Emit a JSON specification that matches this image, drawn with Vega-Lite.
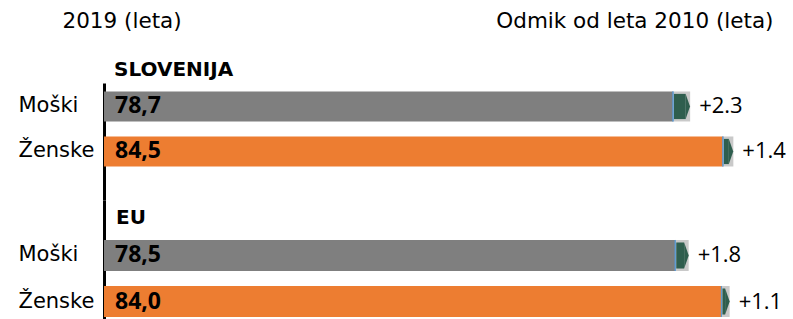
{
  "$schema": "https://vega.github.io/schema/vega-lite/v6.json",
  "padding": {"left": 18, "top": 10, "right": 0, "bottom": 0},
  "background": "white",
  "config": {"view": {"stroke": null}, "concat": {"spacing": 0}},
  "data": {"values": [
    {"region": "SLOVENIJA", "sex": "Moški", "value": 78.7, "v2010": 76.4, "valueLabel": "78,7", "changeLabel": "+2.3"},
    {"region": "SLOVENIJA", "sex": "Ženske", "value": 84.5, "v2010": 83.1, "valueLabel": "84,5", "changeLabel": "+1.4"},
    {"region": "EU", "sex": "Moški", "value": 78.5, "v2010": 76.7, "valueLabel": "78,5", "changeLabel": "+1.8"},
    {"region": "EU", "sex": "Ženske", "value": 84.0, "v2010": 82.9, "valueLabel": "84,0", "changeLabel": "+1.1"}
  ]},
  "spacing": 0,
  "resolve": {"scale": {"x": "shared", "y": "independent"}, "axis": {"x": "independent", "y": "independent"}},
  "vconcat": [
    {
      "width": 680,
      "height": 117,
      "transform": [{"filter": "datum.region === 'SLOVENIJA'"}],
      "encoding": {
        "y": {"field": "sex", "type": "nominal", "sort": ["Moški", "Ženske"],
          "scale": {"paddingInner": 0.3333, "paddingOuter": 0.4667, "align": 0.202},
          "axis": {"title": "2019 (leta)", "titleAngle": 0, "titleAlign": "left", "titleBaseline": "middle", "titleX": -42, "titleY": -62,
            "titleFont": "DejaVu Sans", "titleFontSize": 21.5, "titleFontWeight": "normal", "titleColor": "#000",
            "labelFont": "DejaVu Sans", "labelFontSize": 21, "labelColor": "#000", "labelAlign": "left", "labelBaseline": "middle", "labelPadding": 86,
            "ticks": false, "tickSize": 0, "domainColor": "#000", "domainWidth": 3, "grid": false}}
      },
      "layer": [
        {"mark": {"type": "bar"},
          "encoding": {
            "x": {"field": "v2010", "type": "quantitative", "scale": {"domain": [0, 91.3], "nice": false},
              "axis": {"orient": "top", "labels": false, "ticks": false, "domain": false, "grid": false,
                "title": "Odmik od leta 2010 (leta)", "titleAlign": "right", "titleBaseline": "middle", "titleX": 669, "titleY": -62,
                "titleFont": "DejaVu Sans", "titleFontSize": 21.5, "titleFontWeight": "normal", "titleColor": "#000"}},
            "color": {"field": "sex", "type": "nominal", "scale": {"domain": ["Moški", "Ženske"], "range": ["#7f7f7f", "#ed7d31"]}, "legend": null}
          }},
        {"mark": {"type": "bar", "color": "#c9c9c9"},
          "encoding": {"x": {"field": "v2010", "type": "quantitative"}, "x2": {"field": "value"}}},
        {"mark": {"type": "bar", "fillOpacity": 0, "stroke": "#5b9bd5", "strokeWidth": 1},
          "encoding": {"x": {"field": "v2010", "type": "quantitative"}, "x2": {"field": "v2010"}}},
        {"mark": {"type": "bar", "color": "#2f5e4e", "xOffset": 1, "x2Offset": -4.5, "height": {"band": 0.84}},
          "encoding": {"x": {"field": "v2010", "type": "quantitative"}, "x2": {"field": "value"}}},
        {"mark": {"type": "point", "shape": "M0,-1L0.35,0L0,1Z", "size": 625, "filled": true, "opacity": 1, "color": "#2f5e4e", "strokeWidth": 0, "xOffset": -4.5},
          "encoding": {"x": {"field": "value", "type": "quantitative"}}},
        {"mark": {"type": "text", "align": "left", "baseline": "middle", "dx": 11, "font": "Open Sans", "fontWeight": "bold", "fontSize": 23, "color": "#000"},
          "encoding": {"x": {"datum": 0, "type": "quantitative"}, "text": {"field": "valueLabel"}}},
        {"mark": {"type": "text", "align": "left", "baseline": "middle", "dx": 9, "font": "Open Sans", "fontSize": 22, "color": "#000"},
          "encoding": {"x": {"field": "value", "type": "quantitative"}, "text": {"field": "changeLabel"}}},
        {"transform": [{"filter": "datum.sex === 'Moški'"}],
          "mark": {"type": "text", "align": "left", "baseline": "middle", "dx": 10, "dy": -36, "font": "DejaVu Sans", "fontWeight": "bold", "fontSize": 20, "color": "#000"},
          "encoding": {"x": {"datum": 0, "type": "quantitative"}, "text": {"field": "region"}}}
      ]
    },
    {
      "width": 680,
      "height": 122,
      "transform": [{"filter": "datum.region === 'EU'"}],
      "encoding": {
        "y": {"field": "sex", "type": "nominal", "sort": ["Moški", "Ženske"],
          "scale": {"paddingInner": 0.326, "paddingOuter": 0.489, "align": 0.889},
          "axis": {"title": null,
            "labelFont": "DejaVu Sans", "labelFontSize": 21, "labelColor": "#000", "labelAlign": "left", "labelBaseline": "middle", "labelPadding": 86,
            "ticks": false, "tickSize": 0, "domainColor": "#000", "domainWidth": 3, "grid": false}}
      },
      "layer": [
        {"mark": {"type": "bar"},
          "encoding": {
            "x": {"field": "v2010", "type": "quantitative", "scale": {"domain": [0, 91.3], "nice": false}, "axis": null},
            "color": {"field": "sex", "type": "nominal", "scale": {"domain": ["Moški", "Ženske"], "range": ["#7f7f7f", "#ed7d31"]}, "legend": null}
          }},
        {"mark": {"type": "bar", "color": "#c9c9c9"},
          "encoding": {"x": {"field": "v2010", "type": "quantitative"}, "x2": {"field": "value"}}},
        {"mark": {"type": "bar", "fillOpacity": 0, "stroke": "#5b9bd5", "strokeWidth": 1},
          "encoding": {"x": {"field": "v2010", "type": "quantitative"}, "x2": {"field": "v2010"}}},
        {"mark": {"type": "bar", "color": "#2f5e4e", "xOffset": 1, "x2Offset": -4.5, "height": {"band": 0.84}},
          "encoding": {"x": {"field": "v2010", "type": "quantitative"}, "x2": {"field": "value"}}},
        {"mark": {"type": "point", "shape": "M0,-1L0.35,0L0,1Z", "size": 676, "filled": true, "opacity": 1, "color": "#2f5e4e", "strokeWidth": 0, "xOffset": -4.5},
          "encoding": {"x": {"field": "value", "type": "quantitative"}}},
        {"mark": {"type": "text", "align": "left", "baseline": "middle", "dx": 11, "font": "Open Sans", "fontWeight": "bold", "fontSize": 23, "color": "#000"},
          "encoding": {"x": {"datum": 0, "type": "quantitative"}, "text": {"field": "valueLabel"}}},
        {"mark": {"type": "text", "align": "left", "baseline": "middle", "dx": 9, "font": "Open Sans", "fontSize": 22, "color": "#000"},
          "encoding": {"x": {"field": "value", "type": "quantitative"}, "text": {"field": "changeLabel"}}},
        {"transform": [{"filter": "datum.sex === 'Moški'"}],
          "mark": {"type": "text", "align": "left", "baseline": "middle", "dx": 12, "dy": -37, "font": "DejaVu Sans", "fontWeight": "bold", "fontSize": 20, "color": "#000"},
          "encoding": {"x": {"datum": 0, "type": "quantitative"}, "text": {"field": "region"}}}
      ]
    }
  ]
}
